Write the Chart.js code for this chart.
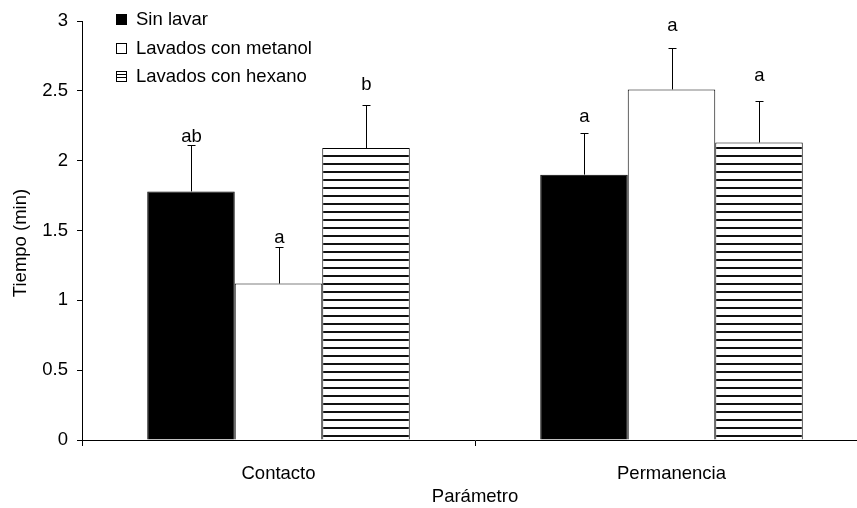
<!DOCTYPE html>
<html>
<head>
<meta charset="utf-8">
<script src="https://cdn.jsdelivr.net/npm/chart.js@4"></script>
<style>
  html, body { margin: 0; padding: 0; background: #fff; overflow: hidden; }
  #wrap { width: 870px; height: 508px; }
</style>
</head>
<body>
<div id="wrap"><canvas id="c" width="870" height="508"></canvas></div>
<script>
// ---- data ----
const categories = ['Contacto', 'Permanencia'];
const seriesNames = ['Sin lavar', 'Lavados con metanol', 'Lavados con hexano'];
const sinLavar = [1.78, 1.90];
const metanol = [1.12, 2.51];
const hexano = [2.09, 2.13];
const errSinLavar = [0.33, 0.30];
const errMetanol = [0.26, 0.30];
const errHexano = [0.31, 0.30];
const letterSinLavar = ['ab', 'a'];
const letterMetanol = ['a', 'a'];
const letterHexano = ['b', 'a'];
const letterYSinLavar = [2.135, 2.278];
const letterYMetanol = [1.408, 2.928];
const letterYHexano = [2.505, 2.570];
const yTicks = [0, 0.5, 1, 1.5, 2, 2.5, 3];
const yTickLabels = ['0', '0.5', '1', '1.5', '2', '2.5', '3'];
const xTitle = 'Parámetro';
const yTitle = 'Tiempo (min)';

const FONT = "'Liberation Sans', Arial, sans-serif";
const FS = 18.5;

// hatch pattern
function makeHatch() {
  const p = document.createElement('canvas');
  p.width = 8; p.height = 8;
  const g = p.getContext('2d');
  g.fillStyle = '#fff';
  g.fillRect(0, 0, 8, 8);
  g.fillStyle = '#111';
  g.fillRect(0, 3, 8, 2);
  return document.getElementById('c').getContext('2d').createPattern(p, 'repeat');
}
const hatch = makeHatch();

const errors = [errSinLavar, errMetanol, errHexano];
const letters = [letterSinLavar, letterMetanol, letterHexano];
const letterYs = [letterYSinLavar, letterYMetanol, letterYHexano];

const errorBarPlugin = {
  id: 'errorBars',
  afterDatasetsDraw(chart) {
    const ctx = chart.ctx;
    const ys = chart.scales.y;
    ctx.save();
    chart.data.datasets.forEach((ds, i) => {
      const meta = chart.getDatasetMeta(i);
      meta.data.forEach((bar, j) => {
        const v = ds.data[j];
        const top = ys.getPixelForValue(v + errors[i][j]);
        const x = Math.round(bar.x) + 0.5;
        const yb = bar.y;
        ctx.strokeStyle = '#000';
        ctx.lineWidth = 1;
        ctx.beginPath();
        ctx.moveTo(x, yb);
        ctx.lineTo(x, Math.round(top) + 0.5);
        ctx.moveTo(x - 4, Math.round(top) + 0.5);
        ctx.lineTo(x + 4, Math.round(top) + 0.5);
        ctx.stroke();
        ctx.fillStyle = '#000';
        ctx.font = FS + 'px ' + FONT;
        ctx.textAlign = 'center';
        ctx.textBaseline = 'alphabetic';
        ctx.fillText(letters[i][j], x, ys.getPixelForValue(letterYs[i][j]));
      });
    });
    ctx.restore();
  }
};

const legendPlugin = {
  id: 'innerLegend',
  afterDraw(chart) {
    const ctx = chart.ctx;
    const rows = [19, 48, 75.5];
    ctx.save();
    ctx.font = FS + 'px ' + FONT;
    ctx.textBaseline = 'middle';
    ctx.textAlign = 'left';
    chart.data.datasets.forEach((ds, i) => {
      const yc = rows[i];
      const bx = 116.5, by = Math.round(yc - 5) + 0.5, s = 10;
      ctx.lineWidth = 1;
      ctx.strokeStyle = '#000';
      if (i === 0) {
        ctx.fillStyle = '#000';
        ctx.fillRect(bx - 0.5, by - 0.5, s + 1, s + 1);
      } else {
        ctx.fillStyle = '#fff';
        ctx.fillRect(bx, by, s, s);
        ctx.strokeRect(bx, by, s, s);
        if (i === 2) {
          ctx.beginPath();
          ctx.moveTo(bx, by + 3); ctx.lineTo(bx + s, by + 3);
          ctx.moveTo(bx, by + 6); ctx.lineTo(bx + s, by + 6);
          ctx.stroke();
        }
      }
      ctx.fillStyle = '#000';
      ctx.fillText(ds.label, 136, yc + 1);
    });
    // y axis title
    ctx.translate(21, 243);
    ctx.rotate(-Math.PI / 2);
    ctx.textAlign = 'center';
    ctx.textBaseline = 'middle';
    ctx.fillText(yTitle, 0, 0);
    ctx.restore();
  }
};

new Chart(document.getElementById('c'), {
  type: 'bar',
  data: {
    labels: categories,
    datasets: [
      { label: seriesNames[0], data: sinLavar, backgroundColor: '#000', borderColor: '#000', borderWidth: 1 },
      { label: seriesNames[1], data: metanol, backgroundColor: '#fff', borderColor: '#000', borderWidth: 1 },
      { label: seriesNames[2], data: hexano, backgroundColor: hatch, borderColor: '#000', borderWidth: 1 }
    ]
  },
  options: {
    responsive: false,
    animation: false,
    devicePixelRatio: 1,
    layout: { padding: { left: 0, top: 21, right: 2, bottom: 0 } },
    datasets: { bar: { categoryPercentage: 0.668, barPercentage: 1.0 } },
    plugins: { legend: { display: false }, tooltip: { enabled: false } },
    scales: {
      x: {
        offset: true,
        grid: { offset: true, drawOnChartArea: false, tickLength: 6, color: '#000' },
        border: { color: '#000' },
        ticks: { font: { family: FONT, size: FS }, color: '#000', padding: 17 },
        title: { display: true, text: xTitle, font: { family: FONT, size: FS }, color: '#000', padding: { top: 0, bottom: 0 } },
        afterFit(s) { s.height = 68; }
      },
      y: {
        min: 0, max: 3,
        afterBuildTicks(s) { s.ticks = yTicks.map(v => ({ value: v })); },
        grid: { drawOnChartArea: false, tickLength: 5, color: '#000' },
        border: { color: '#000' },
        ticks: {
          font: { family: FONT, size: FS }, color: '#000', padding: 9,
          callback(value) { const k = yTicks.indexOf(value); return k >= 0 ? yTickLabels[k] : ''; }
        },
        title: { display: false, text: yTitle },
        afterFit(s) { s.width = 82; }
      }
    }
  },
  plugins: [errorBarPlugin, legendPlugin]
});
</script>
</body>
</html>
